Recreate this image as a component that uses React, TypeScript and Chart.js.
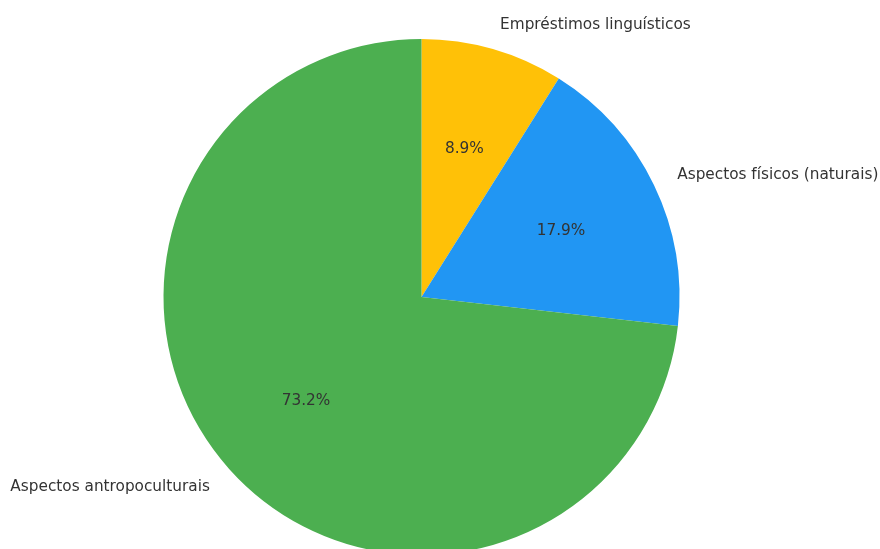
import React, { useEffect, useRef } from "react";
import { Chart, registerables } from "chart.js";

Chart.register(...registerables);

const categories = ["Empréstimos linguísticos", "Aspectos físicos (naturais)", "Aspectos antropoculturais"];
const counts = [5, 10, 41];
const sliceColors = ["#FFC107", "#2196F3", "#4CAF50"];

const FONT = "'DejaVu Sans', sans-serif";
const TEXT_COLOR = "#333333";

const pieLabels = {
  id: "pieLabels",
  afterDatasetsDraw(chart: any) {
    const ctx = chart.ctx;
    const meta = chart.getDatasetMeta(0);
    const data = chart.data.datasets[0].data as number[];
    const total = data.reduce((a, b) => a + b, 0);
    ctx.save();
    ctx.font = `15.3px ${FONT}`;
    ctx.fillStyle = TEXT_COLOR;
    ctx.textBaseline = "middle";
    meta.data.forEach((arc: any, i: number) => {
      const mid = (arc.startAngle + arc.endAngle) / 2;
      const r = arc.outerRadius;
      const cx = arc.x;
      const cy = arc.y;
      const lx = cx + Math.cos(mid) * r * 1.1;
      const ly = cy + Math.sin(mid) * r * 1.1 + 1;
      ctx.textAlign = Math.cos(mid) >= 0 ? "left" : "right";
      ctx.fillText(chart.data.labels[i], lx, ly);
      const px = cx + Math.cos(mid) * r * 0.6;
      const py = cy + Math.sin(mid) * r * 0.6 + 1;
      ctx.textAlign = "center";
      ctx.fillText(((data[i] / total) * 100).toFixed(1) + "%", px, py);
    });
    ctx.restore();
  },
};

export default function App() {
  const ref = useRef<HTMLCanvasElement | null>(null);
  useEffect(() => {
    document.body.style.margin = "0";
    if (!ref.current) return;
    const chart = new Chart(ref.current, {
      type: "pie",
      data: {
        labels: categories,
        datasets: [
          {
            data: counts,
            backgroundColor: sliceColors,
            borderWidth: 0,
            hoverOffset: 0,
          },
        ],
      },
      options: {
        animation: false,
        responsive: false,
        maintainAspectRatio: false,
        layout: { padding: { left: 163.5, right: 200.5, top: 39, bottom: 45 } },
        plugins: {
          legend: { display: false },
          tooltip: { enabled: false },
        },
      },
      plugins: [pieLabels],
    });
    return () => chart.destroy();
  }, []);
  return (
    <div style={{ position: "absolute", left: 0, top: 0, width: 880, height: 549, overflow: "hidden", background: "#fff" }}>
      <canvas ref={ref} width={880} height={600} style={{ width: 880, height: 600, display: "block" }} />
    </div>
  );
}
